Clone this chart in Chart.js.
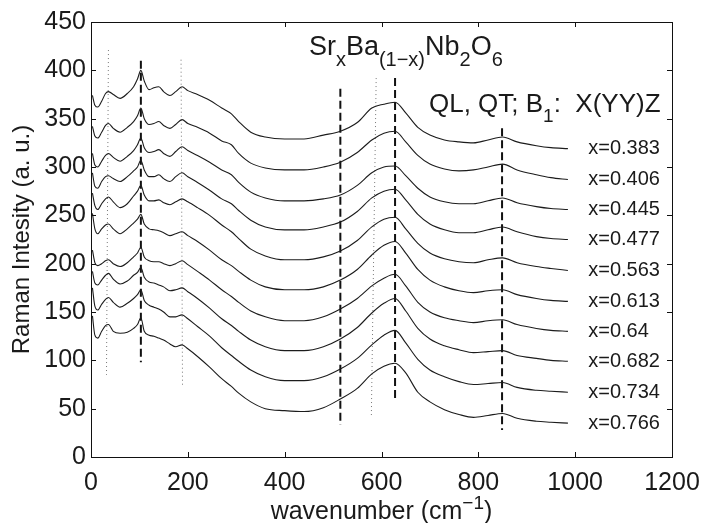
<!DOCTYPE html>
<html>
<head>
<meta charset="utf-8">
<script src="https://cdn.jsdelivr.net/npm/chart.js@4.4.1/dist/chart.umd.min.js"></script>
<style>
  html, body { margin: 0; padding: 0; background: #fff; }
</style>
</head>
<body>
<canvas id="myChart" width="701" height="523"></canvas>
<script>
// wavenumber grid (cm-1) shared by all spectra
const wavenumbers = [3, 8, 14, 22, 30, 36, 46, 60, 75, 88, 96, 103, 110, 120, 130, 140, 150, 163, 175, 188,
    200, 220, 245, 270, 290, 305, 330, 360, 400, 440, 480, 515, 550, 580, 605, 628, 650, 675, 700, 730,
    760, 790, 820, 850, 880, 920, 950, 985];

const compositions = ['x=0.383', 'x=0.406', 'x=0.445', 'x=0.477', 'x=0.563', 'x=0.613', 'x=0.64', 'x=0.682', 'x=0.734', 'x=0.766'];

// offset spectra, top to bottom
const s0383 = [374, 364, 362, 368, 376, 378, 375, 371, 376, 383, 391, 400, 389, 380, 382, 383, 378, 374, 378, 383,
    379, 375, 369, 361, 355, 347, 336, 331, 329, 329, 333, 337, 346, 361, 365, 367, 356, 341, 333, 328,
    326, 325, 328, 331, 326, 322, 320, 319];
const s0406 = [342, 332, 330, 336, 343, 345, 340, 336, 341, 347, 353, 361, 350, 344, 345, 347, 343, 340, 344, 349,
    345, 341, 335, 327, 323, 314, 304, 299, 297, 297, 300, 305, 315, 328, 335, 337, 326, 312, 303, 298,
    296, 297, 300, 303, 297, 292, 289, 287];
const s0445 = [314, 302, 300, 306, 312, 314, 310, 306, 311, 317, 323, 330, 320, 315, 316, 318, 314, 311, 316, 321,
    317, 312, 305, 297, 292, 284, 274, 268, 265, 265, 267, 271, 281, 294, 300, 301, 291, 278, 269, 264,
    262, 262, 265, 268, 263, 259, 257, 256];
const s0477 = [294, 280, 278, 285, 290, 291, 288, 285, 290, 296, 300, 307, 297, 290, 290, 292, 288, 285, 290, 294,
    290, 284, 276, 267, 262, 255, 245, 238, 235, 235, 238, 243, 254, 268, 275, 277, 266, 251, 241, 235,
    232, 232, 235, 238, 233, 228, 226, 225];
const s0563 = [273, 260, 256, 262, 267, 269, 264, 258, 262, 270, 275, 281, 271, 265, 265, 266, 263, 261, 264, 267,
    264, 258, 250, 240, 233, 226, 215, 208, 204, 204, 207, 213, 224, 238, 246, 248, 236, 221, 211, 205,
    202, 201, 204, 206, 201, 197, 195, 193];
const s0613 = [252, 236, 231, 236, 240, 241, 236, 231, 236, 242, 246, 251, 241, 236, 235, 234, 232, 229, 231, 233,
    229, 223, 214, 204, 198, 192, 183, 176, 173, 173, 176, 183, 194, 209, 219, 223, 211, 194, 183, 176,
    172, 170, 172, 173, 168, 164, 162, 161];
const s064 = [214, 201, 198, 200, 203, 204, 200, 197, 201, 207, 211, 217, 207, 203, 202, 202, 200, 198, 200, 203,
    199, 192, 183, 173, 166, 160, 151, 145, 141, 141, 145, 153, 164, 177, 185, 189, 177, 160, 150, 144,
    141, 139, 141, 142, 137, 133, 131, 130];
const s0682 = [192, 180, 178, 183, 188, 190, 184, 179, 182, 188, 191, 196, 186, 181, 180, 178, 176, 172, 173, 175,
    171, 164, 154, 143, 136, 130, 121, 114, 110, 110, 114, 122, 134, 149, 159, 164, 151, 133, 122, 115,
    111, 108, 109, 110, 105, 102, 100, 99];
const s0734 = [175, 156, 152, 158, 163, 165, 160, 155, 159, 164, 168, 173, 162, 157, 155, 153, 150, 145, 145, 147,
    143, 135, 125, 113, 105, 99, 90, 83, 79, 79, 83, 91, 102, 116, 126, 131, 118, 101, 90, 83,
    78, 75, 76, 77, 72, 69, 68, 67];
const s0766 = [146, 126, 123, 130, 136, 137, 130, 128, 129, 133, 137, 144, 130, 126, 125, 123, 121, 117, 114, 116,
    112, 104, 93, 81, 73, 66, 57, 50, 48, 47, 51, 60, 71, 86, 94, 97, 87, 67, 57, 49,
    44, 41, 43, 45, 40, 37, 36, 35];

const spectra = [s0383, s0406, s0445, s0477, s0563, s0613, s064, s0682, s0734, s0766];

// mode markers: [x top, y top, x bottom, y bottom]
const dashedMarks = [[103, 410, 103, 98], [515, 381, 515, 33], [628, 392, 628, 60], [849, 340, 849, 28]];
const dottedMarks = [[36, 421, 32, 85], [186, 411, 189, 74], [589, 392, 579, 41]];

const xTicks = [0, 200, 400, 600, 800, 1000, 1200];
const yTicks = [0, 50, 100, 150, 200, 250, 300, 350, 400, 450];

const FONT = "'Liberation Sans', Arial, sans-serif";

let datasets = [];
spectra.forEach((s, i) => {
    datasets.push({
        label: compositions[i],
        data: wavenumbers.map((w, j) => ({x: w, y: s[j]})),
        borderColor: '#1c1c1c',
        borderWidth: 1.1,
        pointRadius: 0,
        cubicInterpolationMode: 'monotone',
        fill: false
    });
});
dashedMarks.forEach(m => {
    datasets.push({
        data: [{x: m[0], y: m[1]}, {x: m[2], y: m[3]}],
        borderColor: '#111',
        borderWidth: 2,
        borderDash: [8, 4],
        pointRadius: 0
    });
});
dottedMarks.forEach(m => {
    datasets.push({
        data: [{x: m[0], y: m[1]}, {x: m[2], y: m[3]}],
        borderColor: '#777',
        borderWidth: 1,
        borderDash: [1, 3],
        pointRadius: 0
    });
});

// draws text pieces left to right, 'sub' / 'sup' shifted and smaller
function richText(ctx, parts, x, y, size) {
    parts.forEach(p => {
        let small = p[1] !== 'n';
        let fs = small ? Math.round(size * 0.74) : size;
        ctx.font = fs + 'px ' + FONT;
        let dy = p[1] === 'sub' ? size * 0.4 : (p[1] === 'sup' ? -size * 0.42 : 0);
        ctx.fillText(p[0], x, y + dy);
        x += ctx.measureText(p[0]).width;
    });
}

function richWidth(ctx, parts, size) {
    let w = 0;
    parts.forEach(p => {
        let fs = p[1] !== 'n' ? Math.round(size * 0.74) : size;
        ctx.font = fs + 'px ' + FONT;
        w += ctx.measureText(p[0]).width;
    });
    return w;
}

const frameAndText = {
    id: 'frameAndText',
    afterDatasetsDraw(chart) {
        const {ctx, chartArea: a, scales: {x, y}} = chart;
        ctx.save();
        ctx.strokeStyle = '#111';
        ctx.lineWidth = 1;
        ctx.strokeRect(Math.round(a.left) + 0.5, Math.round(a.top) + 0.5,
            Math.round(a.right - a.left), Math.round(a.bottom - a.top));
        ctx.beginPath();
        xTicks.forEach(v => {
            let px = Math.round(x.getPixelForValue(v)) + 0.5;
            ctx.moveTo(px, a.bottom); ctx.lineTo(px, a.bottom - 5);
            ctx.moveTo(px, a.top); ctx.lineTo(px, a.top + 5);
        });
        yTicks.forEach(v => {
            let py = Math.round(y.getPixelForValue(v)) + 0.5;
            ctx.moveTo(a.left, py); ctx.lineTo(a.left + 5, py);
            ctx.moveTo(a.right, py); ctx.lineTo(a.right - 5, py);
        });
        ctx.stroke();

        ctx.fillStyle = '#1a1a1a';
        ctx.textBaseline = 'alphabetic';
        ctx.textAlign = 'left';
        richText(ctx, [['Sr', 'n'], ['x', 'sub'], ['Ba', 'n'], ['(1\u2212x)', 'sub'], ['Nb', 'n'], ['2', 'sub'], ['O', 'n'], ['6', 'sub']],
            x.getPixelForValue(450), y.getPixelForValue(416), 27);
        richText(ctx, [['QL, QT; B', 'n'], ['1', 'sub'], [':  X(YY)Z', 'n']],
            x.getPixelForValue(698), y.getPixelForValue(357), 26);

        // x axis title with superscript
        let xt = [['wavenumber (cm', 'n'], ['\u22121', 'sup'], [')', 'n']];
        let w = richWidth(ctx, xt, 25);
        richText(ctx, xt, (a.left + a.right) / 2 - w / 2, 519, 25);

        ctx.font = '20px ' + FONT;
        ctx.textBaseline = 'middle';
        compositions.forEach((c, i) => {
            let s = spectra[i];
            ctx.fillText(c, x.getPixelForValue(1027), y.getPixelForValue(s[s.length - 1]));
        });
        ctx.restore();
    }
};

new Chart(document.getElementById('myChart'), {
    type: 'line',
    data: {datasets: datasets},
    options: {
        responsive: false,
        animation: false,
        layout: {padding: {left: 0, right: 29, top: 22, bottom: 0}},
        plugins: {legend: {display: false}, tooltip: {enabled: false}},
        scales: {
            x: {
                type: 'linear',
                min: 0, max: 1200,
                afterFit: s => { s.height = 66; s.paddingLeft = 0; s.paddingRight = 0; },
                afterBuildTicks: s => { s.ticks = xTicks.map(v => ({value: v})); },
                grid: {display: false, drawTicks: false},
                border: {display: false},
                ticks: {color: '#1a1a1a', font: {family: FONT, size: 25}, padding: 11, maxRotation: 0,
                    callback: v => String(v)},
                title: {display: false}
            },
            y: {
                min: 0, max: 450,
                afterFit: s => { s.width = 91; s.paddingTop = 0; s.paddingBottom = 0; },
                afterBuildTicks: s => { s.ticks = yTicks.map(v => ({value: v})); },
                grid: {display: false, drawTicks: false},
                border: {display: false},
                ticks: {color: '#1a1a1a', font: {family: FONT, size: 25}, padding: 5,
                    callback: v => String(v)},
                title: {display: true, text: 'Raman Intesity (a. u.)', color: '#1a1a1a',
                    font: {family: FONT, size: 24}, padding: {top: 8, bottom: 0}}
            }
        }
    },
    plugins: [frameAndText]
});
</script>
</body>
</html>
